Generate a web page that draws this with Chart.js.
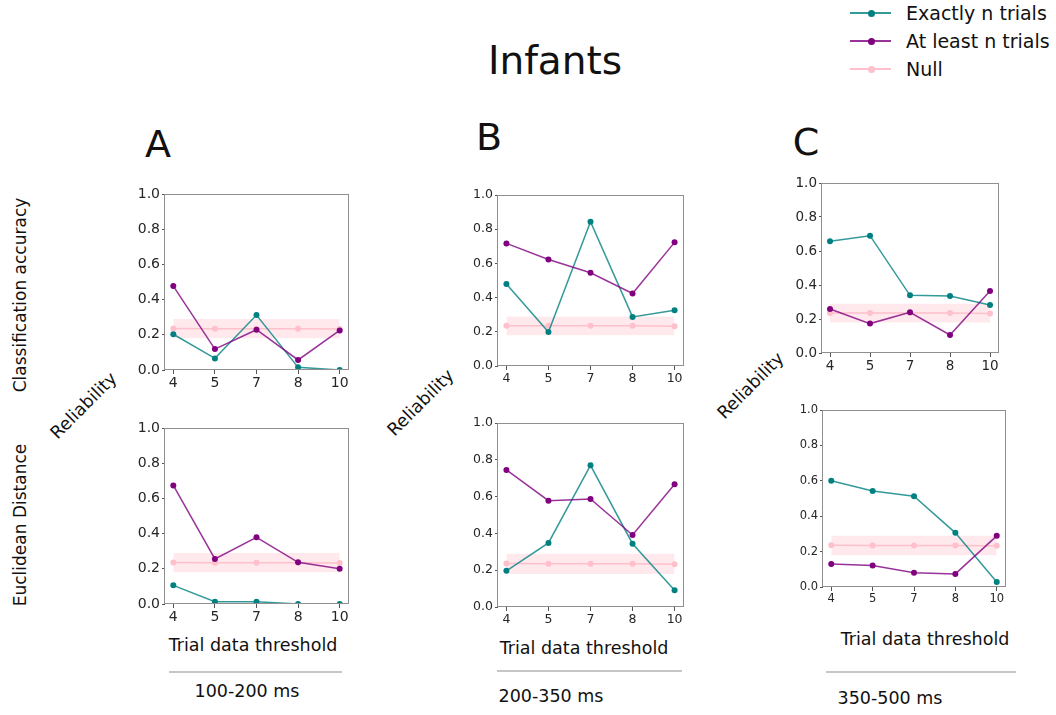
<!DOCTYPE html>
<html>
<head>
<meta charset="utf-8">
<script src="https://cdn.jsdelivr.net/npm/chart.js@4.4.1/dist/chart.umd.min.js"></script>
<style>
  html, body { margin: 0; padding: 0; background: #fff; }
  #fig { position: relative; width: 1056px; height: 715px; overflow: hidden;
         font-family: "DejaVu Sans", sans-serif; color: #111; }
  .t { position: absolute; white-space: nowrap; line-height: 1; transform: translate(-50%, -50%); }
  .rot90 { transform: translate(-50%, -50%) rotate(-90deg); }
  .rot45 { transform: translate(-50%, -50%) rotate(-45deg); }
  .panel { position: absolute; }
  .sep { position: absolute; height: 2px; background: #c6c6c6; }
  .leg-line { position: absolute; height: 2px; }
  .leg-dot { position: absolute; width: 7px; height: 7px; border-radius: 50%; }
  .leg-text { position: absolute; font-size: 19px; line-height: 1; transform: translateY(-50%); white-space: nowrap; }
</style>
</head>
<body>
<div id="fig">
  <div class="t" style="left:555px; top:60px; font-size:39px;">Infants</div>

  <div class="t" style="left:158px; top:144px; font-size:38px;">A</div>
  <div class="t" style="left:489px; top:137px; font-size:38px;">B</div>
  <div class="t" style="left:806px; top:142px; font-size:38px;">C</div>

  <div class="t rot90" style="left:20px; top:295px; font-size:17px;">Classification accuracy</div>
  <div class="t rot90" style="left:20px; top:525px; font-size:17px;">Euclidean Distance</div>

  <div class="t rot45" style="left:84px; top:406px; font-size:17.5px;">Reliability</div>
  <div class="t rot45" style="left:421px; top:403px; font-size:17.5px;">Reliability</div>
  <div class="t rot45" style="left:751px; top:386px; font-size:17.5px;">Reliability</div>

  <div class="t" style="left:253px; top:646px; font-size:17.5px;">Trial data threshold</div>
  <div class="sep" style="left:169px; top:671px; width:173px;"></div>
  <div class="t" style="left:247px; top:692px; font-size:17.5px;">100-200 ms</div>

  <div class="t" style="left:584px; top:649px; font-size:17.5px;">Trial data threshold</div>
  <div class="sep" style="left:497px; top:670px; width:185px;"></div>
  <div class="t" style="left:551px; top:697px; font-size:17.5px;">200-350 ms</div>

  <div class="t" style="left:925px; top:640px; font-size:17.5px;">Trial data threshold</div>
  <div class="sep" style="left:826px; top:671px; width:190px;"></div>
  <div class="t" style="left:890px; top:699px; font-size:17.5px;">350-500 ms</div>

  <div id="legend"></div>
</div>

<script>
// Trial-count thresholds on the x axis
const thresholds = ['4', '5', '7', '8', '10'];

// Null distribution: mean and band
const nullMean = [0.236, 0.235, 0.235, 0.235, 0.233];
const nullLow  = [0.180, 0.180, 0.180, 0.180, 0.180];
const nullHigh = [0.290, 0.290, 0.290, 0.290, 0.290];

// A: 100-200 ms
const exactA_cls = [0.203, 0.066, 0.312, 0.015, 0.000];
const leastA_cls = [0.477, 0.119, 0.229, 0.057, 0.225];
const exactA_euc = [0.106, 0.013, 0.013, 0.000, 0.000];
const leastA_euc = [0.674, 0.256, 0.379, 0.237, 0.200];

// B: 200-350 ms
const exactB_cls = [0.479, 0.199, 0.844, 0.287, 0.326];
const leastB_cls = [0.717, 0.623, 0.545, 0.424, 0.723];
const exactB_euc = [0.197, 0.348, 0.770, 0.344, 0.091];
const leastB_euc = [0.745, 0.578, 0.587, 0.391, 0.667];

// C: 350-500 ms
const exactC_cls = [0.657, 0.690, 0.339, 0.335, 0.282];
const leastC_cls = [0.259, 0.173, 0.239, 0.106, 0.365];
const exactC_euc = [0.600, 0.542, 0.513, 0.306, 0.028];
const leastC_euc = [0.130, 0.121, 0.081, 0.074, 0.289];

const seriesNames = ['Exactly n trials', 'At least n trials', 'Null'];

const TEAL = '#008080', TEAL_LINE = 'rgba(0,128,128,0.8)';
const PURPLE = '#800080', PURPLE_LINE = 'rgba(128,0,128,0.8)';
const PINK = '#ffc0cb';
const BAND = 'rgba(255,192,203,0.35)';

const fig = document.getElementById('fig');

const toXY = arr => arr.map((v, i) => ({ x: i, y: v }));

// frame on all four sides of the plotting area
const framePlugin = {
  id: 'frame',
  afterDatasetsDraw(chart) {
    const a = chart.chartArea, ctx = chart.ctx;
    ctx.save();
    ctx.strokeStyle = '#8f8f8f';
    ctx.lineWidth = 1;
    ctx.strokeRect(Math.round(a.left) - 0.5, Math.round(a.top) + 0.5,
                   Math.round(a.right - a.left) + 1, Math.round(a.bottom - a.top) - 1);
    ctx.restore();
  }
};

function panel(box, exact, least, fontSize) {
  const [L, T, R, B] = box;
  const padL = 46, padT = 10, padR = 14, padB = 26;
  const w = R - L + padL + padR, h = B - T + padT + padB;
  const wrap = document.createElement('div');
  wrap.className = 'panel';
  wrap.style.left = (L - padL) + 'px';
  wrap.style.top = (T - padT) + 'px';
  wrap.style.width = w + 'px';
  wrap.style.height = h + 'px';
  const cv = document.createElement('canvas');
  cv.width = w; cv.height = h;
  cv.style.width = w + 'px'; cv.style.height = h + 'px';
  wrap.appendChild(cv);
  fig.appendChild(wrap);

  const tickFont = { family: '"DejaVu Sans", sans-serif', size: fontSize };
  new Chart(cv, {
    type: 'line',
    data: {
      datasets: [
        { data: toXY(nullLow), borderWidth: 0, pointRadius: 0, fill: false, order: 10 },
        { data: toXY(nullHigh), borderWidth: 0, pointRadius: 0, fill: '-1', backgroundColor: BAND, order: 9 },
        { label: seriesNames[2], data: toXY(nullMean), borderColor: PINK, backgroundColor: PINK,
          borderWidth: 1.5, pointRadius: 3, pointBorderWidth: 0, order: 8 },
        { label: seriesNames[0], data: toXY(exact), borderColor: TEAL_LINE, backgroundColor: TEAL,
          borderWidth: 1.5, pointRadius: 3, pointBorderWidth: 0, order: 2 },
        { label: seriesNames[1], data: toXY(least), borderColor: PURPLE_LINE, backgroundColor: PURPLE,
          borderWidth: 1.5, pointRadius: 3, pointBorderWidth: 0, order: 1 }
      ]
    },
    options: {
      responsive: false,
      animation: false,
      devicePixelRatio: 1,
      layout: { padding: { left: 0, top: padT, right: padR, bottom: 0 } },
      elements: { line: { tension: 0 } },
      plugins: { legend: { display: false }, tooltip: { enabled: false } },
      scales: {
        x: {
          type: 'linear', min: -0.2, max: 4.2,
          afterBuildTicks: s => { s.ticks = thresholds.map((_, i) => ({ value: i })); },
          afterFit: s => { s.height = padB; s.paddingLeft = 0; s.paddingRight = 0; },
          ticks: { callback: v => thresholds[v], font: tickFont, color: '#262626',
                   padding: 1, autoSkip: false, maxRotation: 0 },
          grid: { display: true, drawOnChartArea: false, drawTicks: true, tickLength: 4, color: '#555' },
          border: { display: false }
        },
        y: {
          min: 0, max: 1,
          afterFit: s => { s.width = padL; s.paddingTop = 0; s.paddingBottom = 0; },
          ticks: { stepSize: 0.2, callback: v => v.toFixed(1), font: tickFont, color: '#262626', padding: 2 },
          grid: { display: true, drawOnChartArea: false, drawTicks: true, tickLength: 3, color: '#555' },
          border: { display: false }
        }
      }
    },
    plugins: [framePlugin]
  });
}

panel([165, 194, 348, 370], exactA_cls, leastA_cls, 14);
panel([165, 428, 348, 604], exactA_euc, leastA_euc, 14);
panel([498, 195, 683, 366], exactB_cls, leastB_cls, 12.5);
panel([498, 423, 683, 607], exactB_euc, leastB_euc, 12.5);
panel([822, 183, 998, 353], exactC_cls, leastC_cls, 13.5);
panel([823, 410, 1005, 587], exactC_euc, leastC_euc, 11.5);

// legend, top right
const legend = document.getElementById('legend');
const legendRows = [
  { name: seriesNames[0], line: TEAL_LINE, dot: TEAL, y: 13 },
  { name: seriesNames[1], line: PURPLE_LINE, dot: PURPLE, y: 41 },
  { name: seriesNames[2], line: PINK, dot: PINK, y: 69 }
];
legendRows.forEach(r => {
  const ln = document.createElement('div');
  ln.className = 'leg-line';
  ln.style.cssText = `left:850px; top:${r.y - 1}px; width:41px; background:${r.line};`;
  const dt = document.createElement('div');
  dt.className = 'leg-dot';
  dt.style.cssText = `left:${871 - 3.5}px; top:${r.y - 3.5}px; background:${r.dot};`;
  const tx = document.createElement('div');
  tx.className = 'leg-text';
  tx.style.cssText = `left:906px; top:${r.y}px;`;
  tx.textContent = r.name;
  fig.appendChild(ln); fig.appendChild(dt); fig.appendChild(tx);
});
</script>
</body>
</html>
